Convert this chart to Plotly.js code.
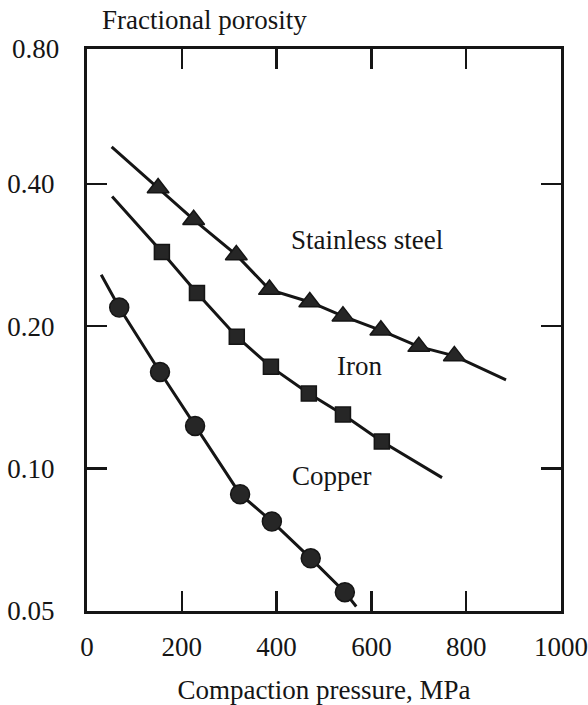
<!DOCTYPE html>
<html><head><meta charset="utf-8">
<script src="https://cdn.plot.ly/plotly-3.0.1.min.js"></script>
<style>html,body{margin:0;padding:0;background:#fff}#chart{width:588px;height:705px}</style>
</head><body><div id="chart"></div>
<script>
// Axis ticks
const pressureTicks = [0, 200, 400, 600, 800, 1000];
const pressureTickText = ['0', '200', '400', '600', '800', '1000'];
const porosityTicks = [0.05, 0.10, 0.20, 0.40];
const porosityTickText = ['0.05', '0.10', '0.20', '0.40'];
const porosityTopLabel = '0.80';

// Stainless steel (triangles)
const steelP   = [150, 225, 315, 385, 470, 540, 620, 700, 775];
const steelPor = [0.392, 0.336, 0.283, 0.239, 0.225, 0.210, 0.196, 0.181, 0.173];
const steelLineEndsP   = [52, 884];
const steelLineEndsPor = [0.479, 0.154];

// Iron (squares)
const ironP   = [158, 232, 316, 388, 468, 540, 622];
const ironPor = [0.287, 0.235, 0.190, 0.164, 0.144, 0.130, 0.114];
const ironLineEndsP   = [53, 749];
const ironLineEndsPor = [0.376, 0.0956];

// Copper (circles)
const copperP   = [68, 154, 228, 323, 390, 472, 544];
const copperPor = [0.219, 0.160, 0.123, 0.0882, 0.0772, 0.0645, 0.0547];
const copperLineEndsP   = [30, 568];
const copperLineEndsPor = [0.257, 0.0510];

const seriesNames = ['Stainless steel', 'Iron', 'Copper'];

const ink = '#151515';
const fill = '#262626';
const serif = 'Liberation Serif, Times New Roman, serif';

function lineTrace(p, por, ends, endsPor) {
  return {
    x: [ends[0]].concat(p, [ends[1]]),
    y: [endsPor[0]].concat(por, [endsPor[1]]),
    mode: 'lines', type: 'scatter',
    line: {color: ink, width: 3},
    hoverinfo: 'skip', showlegend: false
  };
}
function markTrace(p, por, symbol, size, name) {
  return {
    x: p, y: por, mode: 'markers', type: 'scatter', name: name,
    marker: {symbol: symbol, size: size, color: fill, line: {color: ink, width: 1.5}},
    showlegend: false
  };
}

const data = [
  lineTrace(steelP, steelPor, steelLineEndsP, steelLineEndsPor),
  lineTrace(ironP, ironPor, ironLineEndsP, ironLineEndsPor),
  lineTrace(copperP, copperPor, copperLineEndsP, copperLineEndsPor),
  markTrace(steelP, steelPor, 'triangle-up', 19, seriesNames[0]),
  markTrace(ironP, ironPor, 'square', 15, seriesNames[1]),
  markTrace(copperP, copperPor, 'circle', 19, seriesNames[2])
];

const tickFont = {family: serif, size: 27, color: ink};

const layout = {
  width: 588, height: 705,
  margin: {l: 87, r: 27, t: 49, b: 94},
  paper_bgcolor: '#fff', plot_bgcolor: '#fff',
  font: {family: serif, color: ink},
  xaxis: {
    range: [0, 1000],
    tickvals: pressureTicks, ticktext: pressureTickText,
    ticks: 'inside', ticklen: 20, tickwidth: 2.5, tickcolor: ink,
    showline: true, linewidth: 3, linecolor: ink, mirror: 'ticks',
    showgrid: false, zeroline: false,
    tickfont: tickFont, ticklabelstandoff: 10,
    title: {text: 'Compaction pressure, MPa', font: {family: serif, size: 27, color: ink}, standoff: 25}
  },
  yaxis: {
    type: 'log',
    range: [Math.log10(0.0499), Math.log10(0.772)],
    tickvals: porosityTicks, ticktext: porosityTickText,
    ticks: 'inside', ticklen: 20, tickwidth: 2.5, tickcolor: ink,
    showline: true, linewidth: 3, linecolor: ink, mirror: 'ticks',
    showgrid: false, zeroline: false,
    tickfont: tickFont, ticklabelstandoff: 24
  },
  annotations: [
    {text: 'Fractional porosity', xref: 'paper', yref: 'paper', x: 0.027, y: 1.052,
     xanchor: 'left', yanchor: 'middle', showarrow: false, font: {family: serif, size: 27, color: ink}},
    {text: porosityTopLabel, xref: 'paper', yref: 'paper', x: -0.055, y: 1.0,
     xanchor: 'right', yanchor: 'middle', showarrow: false, font: tickFont},
    {text: seriesNames[0], x: 591, y: Math.log10(0.305), xref: 'x', yref: 'y',
     showarrow: false, font: {family: serif, size: 27, color: ink}},
    {text: seriesNames[1], x: 574, y: Math.log10(0.165), xref: 'x', yref: 'y',
     showarrow: false, font: {family: serif, size: 27, color: ink}},
    {text: seriesNames[2], x: 515, y: Math.log10(0.0962), xref: 'x', yref: 'y',
     showarrow: false, font: {family: serif, size: 27, color: ink}}
  ]
};

Plotly.newPlot('chart', data, layout, {displayModeBar: false, staticPlot: true});
</script>
</body></html>
